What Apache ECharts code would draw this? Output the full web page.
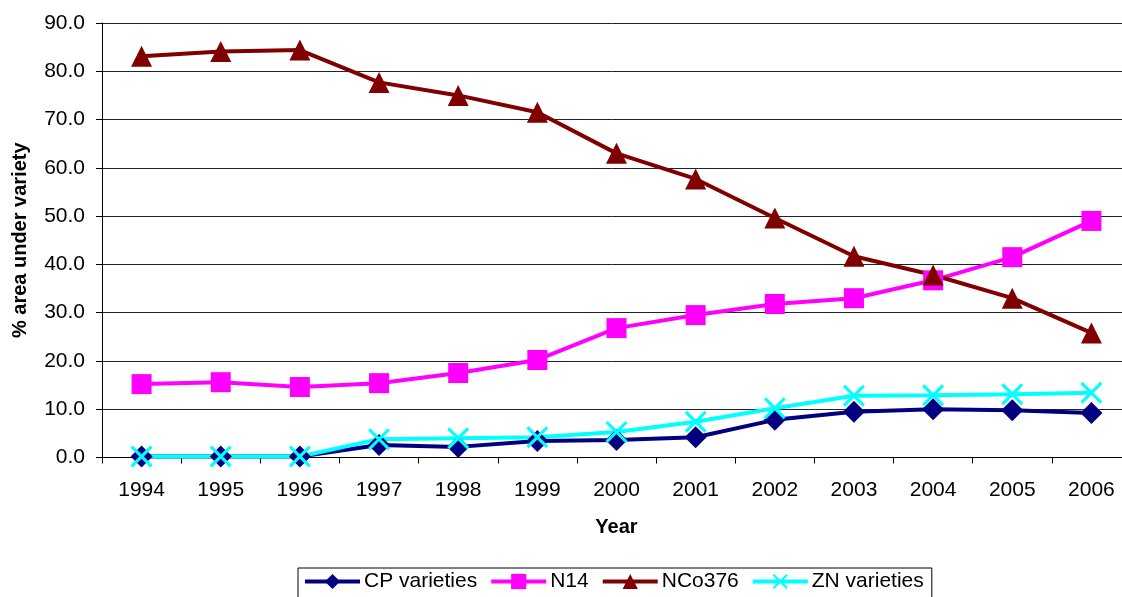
<!DOCTYPE html>
<html>
<head>
<meta charset="utf-8">
<script src="https://cdn.jsdelivr.net/npm/echarts@6/dist/echarts.min.js"></script>
<style>
  html, body { margin: 0; padding: 0; background: #fff; }
  #chart { width: 1122px; height: 597px; }
</style>
</head>
<body>
<div id="chart"></div>
<script>
const years = ['1994', '1995', '1996', '1997', '1998', '1999', '2000', '2001', '2002', '2003', '2004', '2005', '2006']
const cpVarieties = [0.2, 0.2, 0.2, 2.6, 2.2, 3.4, 3.6, 4.2, 7.8, 9.5, 10.0, 9.8, 9.2]
const n14 = [15.2, 15.6, 14.6, 15.4, 17.5, 20.2, 26.8, 29.5, 31.8, 33.0, 36.7, 41.5, 49.0]
const nco376 = [83.1, 84.1, 84.4, 77.7, 75.0, 71.5, 63.0, 57.7, 49.6, 41.7, 37.8, 33.0, 25.8]
const znVarieties = [0.2, 0.2, 0.2, 3.8, 4.0, 4.2, 5.3, 7.4, 10.2, 12.8, 12.9, 13.1, 13.4]

const font = '"Liberation Sans", Arial, sans-serif'
// X-shaped marker, filled polygon so it looks like a stroked cross
const cross = 'path://M0,1L1,0L5,4L9,0L10,1L6,5L10,9L9,10L5,6L1,10L0,9L4,5Z'

let mychart = echarts.init(document.getElementById('chart'))
mychart.setOption({
    animation: false,
    grid: {
        left: 102,
        right: -9,
        top: 23,
        bottom: 139.5,
        outerBoundsMode: 'none',
        containLabel: false,
    },
    legend: {
        left: 298,
        top: 568,
        itemGap: 12,
        itemWidth: 55,
        itemHeight: 19,
        padding: [3, 8, 6, 5],
        borderColor: '#000',
        borderWidth: 1,
        borderRadius: 0,
        lineStyle: { width: 4 },
        textStyle: {
            fontFamily: font,
            fontSize: 21,
            color: '#000',
            padding: [0, 0, 0, -1],
        },
        data: ['CP varieties', 'N14', 'NCo376', 'ZN varieties'],
    },
    xAxis: {
        type: 'category',
        data: years,
        boundaryGap: true,
        name: 'Year',
        nameLocation: 'middle',
        nameGap: 60,
        nameTextStyle: {
            fontFamily: font,
            fontSize: 20,
            fontWeight: 'bold',
            color: '#000',
        },
        axisLine: { lineStyle: { color: '#000', width: 1 } },
        axisTick: { show: true, length: 6, lineStyle: { color: '#000' } },
        axisLabel: {
            fontFamily: font,
            fontSize: 21,
            color: '#000',
            margin: 22,
        },
    },
    yAxis: {
        type: 'value',
        min: 0,
        max: 90,
        interval: 10,
        name: '% area under variety',
        nameLocation: 'middle',
        nameGap: 72,
        nameTextStyle: {
            fontFamily: font,
            fontSize: 20,
            fontWeight: 'bold',
            color: '#000',
        },
        axisLine: { show: true, lineStyle: { color: '#000', width: 1 } },
        axisTick: { show: true, length: 6, lineStyle: { color: '#000' } },
        axisLabel: {
            fontFamily: font,
            fontSize: 21,
            color: '#000',
            margin: 17,
            formatter: (v) => v.toFixed(1),
        },
        splitLine: { lineStyle: { color: '#222', width: 1 } },
    },
    series: [
        {
            name: 'CP varieties',
            type: 'line',
            data: cpVarieties,
            symbol: 'diamond',
            symbolSize: 22,
            lineStyle: { color: '#000080', width: 4 },
            itemStyle: { color: '#000080' },
        },
        {
            name: 'N14',
            type: 'line',
            data: n14,
            symbol: 'rect',
            symbolSize: 20,
            lineStyle: { color: '#ff00ff', width: 4 },
            itemStyle: { color: '#ff00ff' },
        },
        {
            name: 'NCo376',
            type: 'line',
            data: nco376,
            symbol: 'triangle',
            symbolSize: 21,
            lineStyle: { color: '#800000', width: 4 },
            itemStyle: { color: '#800000' },
        },
        {
            name: 'ZN varieties',
            type: 'line',
            data: znVarieties,
            symbol: cross,
            symbolSize: 22,
            lineStyle: { color: '#00ffff', width: 4 },
            itemStyle: { color: '#00ffff' },
        },
    ],
})
</script>
</body>
</html>
